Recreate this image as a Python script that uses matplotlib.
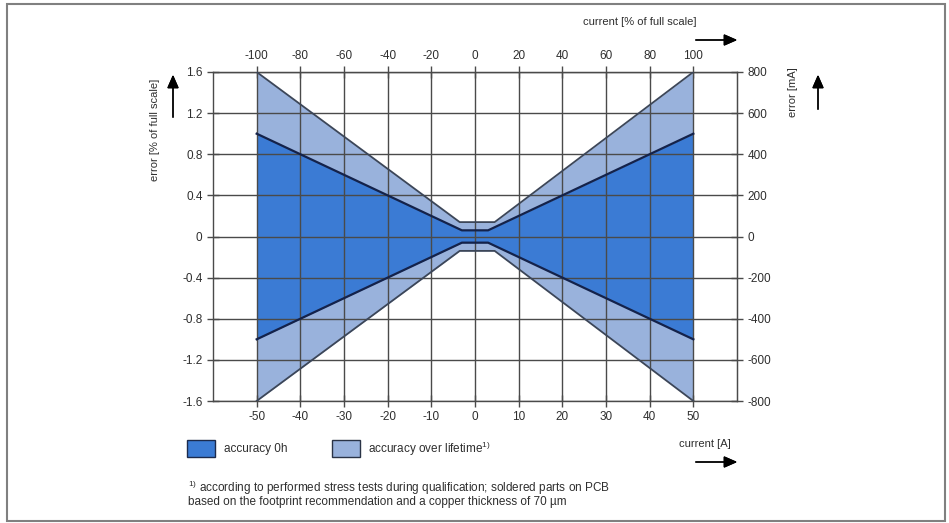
import numpy as np
import matplotlib
matplotlib.use("Agg")
import matplotlib.pyplot as plt
from matplotlib.patches import Rectangle

plt.rcParams["font.family"] = ["Liberation Sans", "DejaVu Sans"]
plt.rcParams["axes.unicode_minus"] = False
plt.rcParams["mathtext.fontset"] = "custom"
plt.rcParams["mathtext.rm"] = "Liberation Sans"

# current [A] at the corner points of each band
current_0h = [-50, -3, 3, 50]
error_0h = [1.0, 0.06, 0.06, 1.0]          # error [% of full scale], upper edge
current_life = [-50, -3.5, 4.5, 50]
error_life = [1.6, 0.14, 0.14, 1.6]

x_ticks = [-50, -40, -30, -20, -10, 0, 10, 20, 30, 40, 50]
y_ticks = [-1.6, -1.2, -0.8, -0.4, 0, 0.4, 0.8, 1.2, 1.6]
pct_ticks = [-100, -80, -60, -40, -20, 0, 20, 40, 60, 80, 100]
ma_ticks = [-800, -600, -400, -200, 0, 200, 400, 600, 800]
y_labels = ["-1.6", "-1.2", "-0.8", "-0.4", "0", "0.4", "0.8", "1.2", "1.6"]

dark_blue = "#3b7bd4"
light_blue = "#99b2dc"
grid_col = "#4a4a4a"
txt_col = "#2e2e2e"

fig = plt.figure(figsize=(9.49, 5.23), dpi=100)
ax = fig.add_axes([213 / 949, 1 - 401 / 523, 524 / 949, 329 / 523])

# bands
ax.fill_between(current_life, [-v for v in error_life], error_life,
                color=light_blue, lw=0, zorder=1)
ax.fill_between(current_0h, [-v for v in error_0h], error_0h,
                color=dark_blue, lw=0, zorder=1.1)
ax.plot(current_life, error_life, color="#3c4658", lw=1.3, zorder=3)
ax.plot(current_life, [-v for v in error_life], color="#3c4658", lw=1.3, zorder=3)
ax.plot(current_0h, error_0h, color="#14224a", lw=1.6, zorder=3)
ax.plot(current_0h, [-v for v in error_0h], color="#14224a", lw=1.6, zorder=3)

ax.set_xlim(-60, 60)
ax.set_ylim(-1.6, 1.6)
ax.set_xticks(x_ticks)
ax.set_yticks(y_ticks)
ax.set_yticklabels(y_labels)
ax.set_axisbelow(False)
ax.grid(True, color=grid_col, lw=1.0, zorder=2)
for s in ax.spines.values():
    s.set_color(grid_col)
    s.set_linewidth(1.0)
ax.tick_params(direction="inout", length=9, width=1.0, color=grid_col,
               labelsize=8.5, labelcolor=txt_col, pad=3)

top = ax.secondary_xaxis("top", functions=(lambda x: x * 2, lambda x: x / 2))
top.set_xticks(pct_ticks)
top.tick_params(direction="inout", length=9, width=1.0, color=grid_col,
                labelsize=8.5, labelcolor=txt_col, pad=3)
right = ax.secondary_yaxis("right", functions=(lambda y: y * 500, lambda y: y / 500))
right.set_yticks(ma_ticks)
right.tick_params(direction="inout", length=9, width=1.0, color=grid_col,
                  labelsize=8.5, labelcolor=txt_col, pad=3)
for sa in (top, right):
    for s in sa.spines.values():
        s.set_color(grid_col)

# axis titles with arrows
def fx(px):
    return px / 949

def fy(py):
    return 1 - py / 523

arrow = dict(arrowstyle="-|>,head_length=0.8,head_width=0.35", color="black", lw=1.0)
fig.text(fx(155), fy(130), "error [% of full scale]", rotation=90, ha="center",
         va="center", fontsize=8, color=txt_col)
fig.add_artist(plt.annotate("", xy=(fx(173), fy(72)), xytext=(fx(173), fy(120)),
                            xycoords="figure fraction", arrowprops=arrow))
fig.text(fx(793), fy(92), "error [mA]", rotation=90, ha="center", va="center",
         fontsize=8, color=txt_col)
fig.add_artist(plt.annotate("", xy=(fx(818), fy(72)), xytext=(fx(818), fy(112)),
                            xycoords="figure fraction", arrowprops=arrow))
fig.text(fx(640), fy(22), "current [% of full scale]", ha="center", va="center",
         fontsize=8, color=txt_col)
fig.add_artist(plt.annotate("", xy=(fx(740), fy(40)), xytext=(fx(693), fy(40)),
                            xycoords="figure fraction", arrowprops=arrow))
fig.text(fx(705), fy(444), "current [A]", ha="center", va="center",
         fontsize=8, color=txt_col)
fig.add_artist(plt.annotate("", xy=(fx(740), fy(462)), xytext=(fx(693), fy(462)),
                            xycoords="figure fraction", arrowprops=arrow))

# legend
fig.add_artist(Rectangle((fx(187), fy(457)), 28 / 949, 17 / 523, transform=fig.transFigure,
                         facecolor=dark_blue, edgecolor="#1c2a4c", lw=1.0))
fig.text(fx(224), fy(449), "accuracy 0h", ha="left", va="center", fontsize=8.5, color=txt_col)
fig.add_artist(Rectangle((fx(332), fy(457)), 28 / 949, 17 / 523, transform=fig.transFigure,
                         facecolor=light_blue, edgecolor="#2a3346", lw=1.0))
fig.text(fx(368), fy(449), "accuracy over lifetime$^{1)}$", ha="left", va="center",
         fontsize=8.5, color=txt_col)

# footnote
fig.text(fx(188), fy(488), "$^{1)}$ according to performed stress tests during qualification; "
         "soldered parts on PCB", ha="left", va="center", fontsize=8.5, color=txt_col)
fig.text(fx(188), fy(502), "based on the footprint recommendation and a copper thickness of 70 \u00b5m",
         ha="left", va="center", fontsize=8.5, color=txt_col)

# outer frame
fig.add_artist(Rectangle((fx(7), fy(521)), 938 / 949, 517 / 523, transform=fig.transFigure,
                         facecolor="none", edgecolor="#808080", lw=1.5))

fig.savefig("out.png", dpi=100, facecolor="white")
